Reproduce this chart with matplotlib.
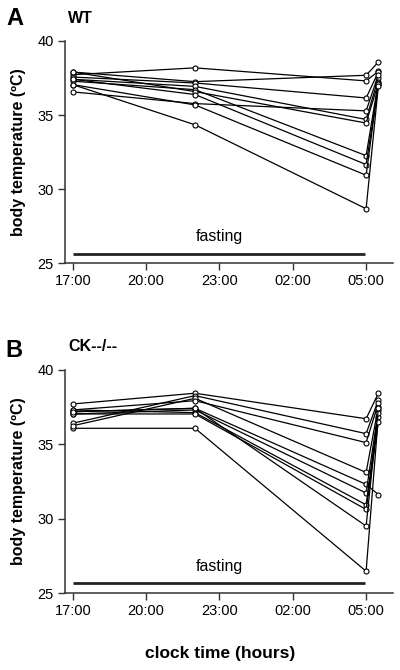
#!/usr/bin/env python3
"""
Plot body temperature during overnight fasting for WT and CK--/-- mice.

Each line is one animal, measured at 17:00, 22:00, 05:00 and 05:30.
"""

from __future__ import annotations

import matplotlib

matplotlib.use("Agg")
import matplotlib.pyplot as plt

plt.rcParams["font.family"] = ["Liberation Sans", "DejaVu Sans"]

# hours after 17:00 for each measurement
HOURS = [0, 5, 12, 12.5]
TICK_HOURS = [0, 3, 6, 9, 12]
TICK_LABELS = ["17:00", "20:00", "23:00", "02:00", "05:00"]
Y_TICKS = [25, 30, 35, 40]

# panel A: WT, one entry per animal
WT_1700 = [37.72, 37.90, 37.56, 37.41, 37.28, 37.90, 37.41, 36.56, 37.05, 37.05]
WT_2200 = [38.18, 37.25, 37.16, 36.93, 36.71, 36.58, 36.38, 35.77, 35.68, 34.34]
WT_0500 = [37.30, 37.68, 36.15, 34.70, 32.26, 34.46, 31.66, 35.28, 30.94, 28.68]
WT_0530 = [37.95, 38.57, 37.90, 37.48, 37.25, 37.15, 37.00, 37.70, 37.10, 36.95]

# panel B: CK--/--
CK_1700 = [36.06, 37.69, 36.40, 36.23, 37.29, 37.17, 37.02, 37.29, 37.02, 37.17]
CK_2200 = [36.06, 38.41, 38.25, 38.07, 37.91, 37.40, 37.29, 37.11, 37.02, 37.40]
CK_0500 = [26.48, 36.70, 35.70, 33.10, 35.10, 32.30, 31.72, 30.93, 30.62, 29.51]
CK_0530 = [36.84, 38.41, 37.95, 37.51, 37.74, 31.62, 37.29, 37.07, 36.50, 37.40]

FASTING_START = 0
FASTING_END = 11.95


def _draw_panel(ax, columns, bar_y, text_y):
    """Draw one panel of per-animal temperature traces."""
    for animal in zip(*columns):
        ax.plot(HOURS, animal, color="black", lw=0.9, marker="o",
                markersize=3.6, markerfacecolor="white",
                markeredgecolor="black", markeredgewidth=0.8, zorder=3)

    ax.hlines(bar_y, FASTING_START, FASTING_END, color="#222222", lw=2.0)
    ax.text(6, text_y, "fasting", ha="center", va="center", fontsize=11.5)

    ax.set_xlim(-0.32, 13.1)
    ax.set_ylim(25, 40)
    ax.set_xticks(TICK_HOURS)
    ax.set_xticklabels(TICK_LABELS)
    ax.set_yticks(Y_TICKS)
    ax.tick_params(direction="out", length=5, width=1, labelsize=10.5,
                   color="#333333", pad=3)
    ax.spines["top"].set_visible(False)
    ax.spines["right"].set_visible(False)
    for side in ("left", "bottom"):
        ax.spines[side].set_linewidth(1.1)
        ax.spines[side].set_color("#333333")
    ax.set_ylabel("body temperature (ºC)", fontsize=11.5,
                  fontweight="bold", labelpad=8)


def main() -> int:
    fig = plt.figure(figsize=(4.0, 6.7), dpi=100)
    ax_a = fig.add_axes([0.1625, 0.607, 0.82, 0.332])
    ax_b = fig.add_axes([0.1625, 0.1145, 0.82, 0.334])

    _draw_panel(ax_a, [WT_1700, WT_2200, WT_0500, WT_0530], 25.62, 26.8)
    _draw_panel(ax_b, [CK_1700, CK_2200, CK_0500, CK_0530], 25.67, 26.8)

    fig.text(0.038, 0.973, "A", fontsize=17, fontweight="bold",
             ha="center", va="center")
    fig.text(0.17, 0.973, "WT", fontsize=11.5, fontweight="bold",
             ha="left", va="center")
    fig.text(0.036, 0.477, "B", fontsize=17, fontweight="bold",
             ha="center", va="center")
    fig.text(0.17, 0.483, "CK--/--", fontsize=11.5, fontweight="bold",
             ha="left", va="center")

    fig.text(0.55, 0.025, "clock time (hours)", fontsize=12.5,
             fontweight="bold", ha="center", va="center")

    fig.savefig("out.png", dpi=100)
    plt.close(fig)
    return 0


if __name__ == "__main__":
    raise SystemExit(main())
